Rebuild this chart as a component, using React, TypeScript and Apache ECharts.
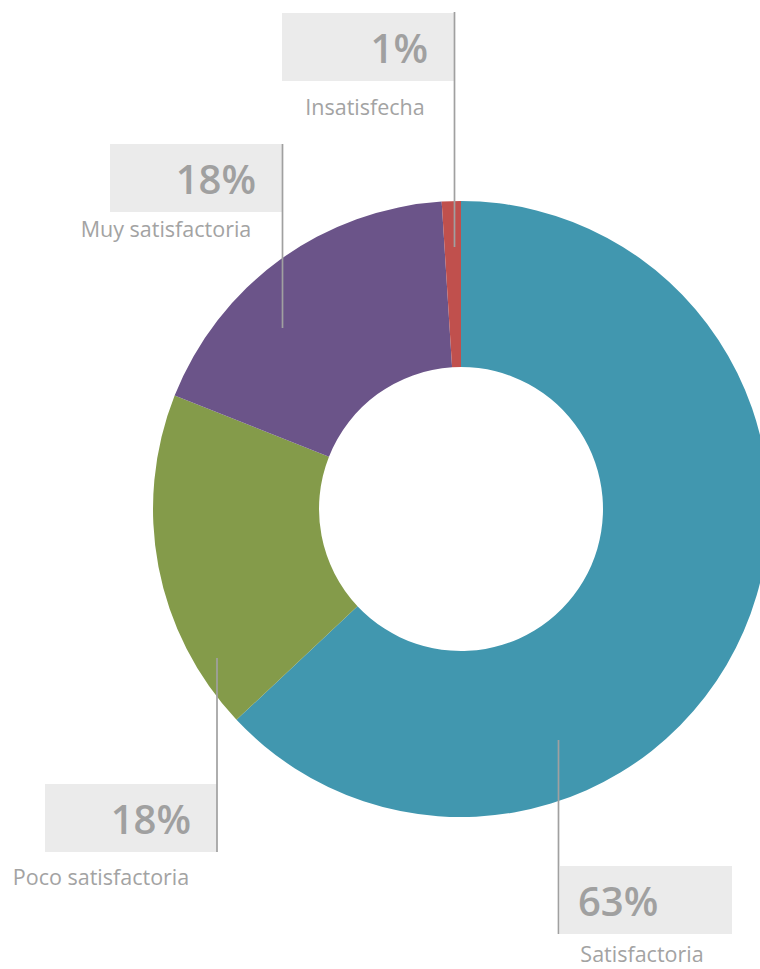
import React, { useEffect, useRef } from "react";
import * as echarts from "echarts";

const categories = ["Satisfactoria", "Poco satisfactoria", "Muy satisfactoria", "Insatisfecha"];
const values = [63, 18, 18, 1];
const colors = ["#4197AF", "#849B4A", "#6B5489", "#C0504D"];

// label box placements (top-left of the grey box) and leader lines, by slice index
const boxPos = [
  { x: 560, y: 866, side: "left" },
  { x: 45, y: 784, side: "right" },
  { x: 110, y: 144, side: "right" },
  { x: 282, y: 13, side: "right" },
];
const namePos = [
  { x: 642, y: 953 },
  { x: 101, y: 876 },
  { x: 166, y: 228 },
  { x: 365, y: 106 },
];
const leaderLines = [
  { x: 558.5, y1: 740, y2: 934 },
  { x: 217, y1: 658, y2: 852 },
  { x: 282.5, y1: 144, y2: 328 },
  { x: 454.5, y1: 12, y2: 247 },
];

const FONT = "'Open Sans', 'Noto Sans', sans-serif";

export default function App() {
  const ref = useRef<HTMLDivElement>(null);
  useEffect(() => {
    if (!ref.current) return;
    const chart = echarts.init(ref.current, undefined, { renderer: "svg" });
    const data = categories.map((name, i) => ({
      name,
      value: values[i],
      itemStyle: { color: colors[i] },
    }));
    const common = {
      type: "pie" as const,
      center: [461, 509],
      radius: [142, 308],
      startAngle: 90,
      clockwise: true,
      avoidLabelOverlap: false,
    };
    const pctStyle = {
      fontFamily: FONT,
      fontSize: 40,
      fontWeight: 600,
      color: "#a0a0a0",
      backgroundColor: "#ebebeb",
      height: 68,
      lineHeight: 68,
    };
    chart.setOption({
      animation: false,
      backgroundColor: "#ffffff",
      series: [
        {
          ...common,
          z: 2,
          data,
          label: {
            show: true,
            position: "outside",
            formatter: (p: any) =>
              boxPos[p.dataIndex].side === "left"
                ? `{pl|${p.value}%}`
                : `{pr|${p.value}%}`,
            rich: {
              pr: { ...pctStyle, width: 146, align: "right", padding: [0, 26, 0, 0] },
              pl: { ...pctStyle, width: 154, align: "left", padding: [0, 0, 0, 18] },
            },
          },
          labelLine: { show: false },
          labelLayout: (params: any) => {
            const b = boxPos[params.dataIndex];
            return { x: b.x, y: b.y, align: "left", verticalAlign: "top" };
          },
          emphasis: { disabled: true },
        },
        {
          ...common,
          z: 5,
          silent: true,
          data: data.map((d) => ({ ...d, itemStyle: { color: "transparent" } })),
          label: {
            show: true,
            position: "outside",
            formatter: "{b}",
            fontFamily: FONT,
            fontSize: 21.5,
            color: "#a3a3a3",
          },
          labelLine: {
            show: true,
            lineStyle: { color: "#a0a0a0", width: 1.7 },
          },
          labelLayout: (params: any) => {
            const i = params.dataIndex;
            const n = namePos[i];
            const l = leaderLines[i];
            return {
              x: n.x,
              y: n.y,
              align: "center",
              verticalAlign: "middle",
              labelLinePoints: [
                [l.x, l.y2],
                [l.x, (l.y1 + l.y2) / 2],
                [l.x, l.y1],
              ],
            };
          },
          emphasis: { disabled: true },
        },
      ],
    });
    return () => chart.dispose();
  }, []);
  return (
    <div
      ref={ref}
      style={{ position: "absolute", left: 0, top: 0, width: 760, height: 969 }}
    />
  );
}
